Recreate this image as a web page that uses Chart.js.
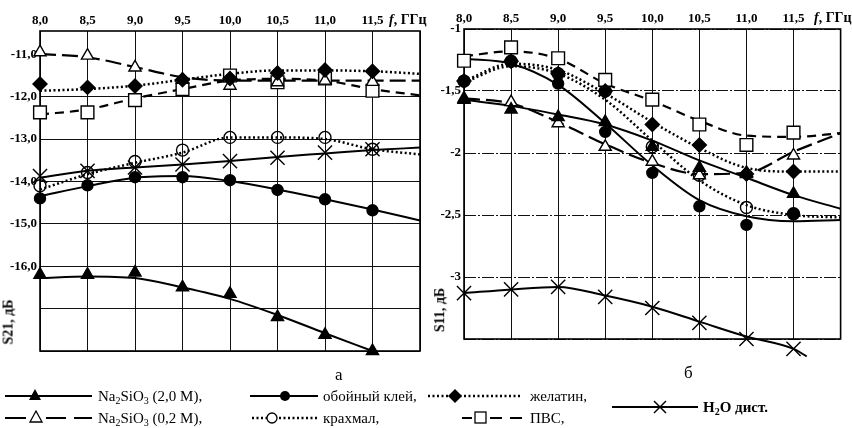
<!DOCTYPE html>
<html><head><meta charset="utf-8">
<script src="https://cdn.jsdelivr.net/npm/chart.js@4"></script>
<style>
body{margin:0;background:#fff;width:852px;height:428px;overflow:hidden;position:relative;font-family:'Liberation Serif','Times New Roman',serif;color:#000;}
canvas{position:absolute;}
.t{position:absolute;white-space:nowrap;line-height:1;}
.lg{font-size:15px;}
.ax{font-size:14px;font-weight:bold;}
sub{font-size:10px;vertical-align:-3px;line-height:0;}
</style></head><body>
<canvas id="c1" width="432" height="385" style="left:0;top:0"></canvas>
<canvas id="c2" width="428" height="385" style="left:424px;top:0"></canvas>

<div class="t ax" style="left:389px;top:13px;"><i>f</i>, ГГц</div>
<div class="t ax" style="left:814px;top:11px;"><i>f</i>, ГГц</div>
<div class="t ax" style="left:-14px;top:315px;transform:rotate(-90deg);">S21, дБ</div>
<div class="t ax" style="left:418px;top:303px;transform:rotate(-90deg);">S11, дБ</div>
<div class="t" style="left:335px;top:366px;font-size:17px;">а</div>
<div class="t" style="left:684px;top:364px;font-size:17px;">б</div>

<svg style="position:absolute;left:0;top:380px" width="852" height="48">
 <g stroke="#000" fill="none" stroke-width="2">
  <line x1="5" y1="16" x2="92" y2="16"/>
  <line x1="250" y1="16" x2="318" y2="16"/>
  <line x1="428" y1="16" x2="520" y2="16" stroke-dasharray="2,2.5" stroke-width="2.5"/>
  <line x1="5" y1="38" x2="26" y2="38"/>
  <line x1="46" y1="38" x2="66" y2="38"/>
  <line x1="74" y1="38" x2="92" y2="38"/>
  <line x1="252" y1="38" x2="318" y2="38" stroke-dasharray="2,2.5" stroke-width="2.5"/>
  <line x1="462" y1="38" x2="472" y2="38"/>
  <line x1="490" y1="38" x2="502" y2="38"/>
  <line x1="510" y1="38" x2="522" y2="38"/>
  <line x1="612" y1="27" x2="698" y2="27"/>
 </g>
 <polygon points="35,9 41,20 29,20" fill="#000"/>
 <circle cx="285" cy="16" r="5" fill="#000"/>
 <polygon points="455,9 462,16 455,23 448,16" fill="#000"/>
 <polygon points="36,31 42,42 30,42" fill="#fff" stroke="#000" stroke-width="1.3"/>
 <circle cx="272" cy="38" r="5" fill="#fff" stroke="#000" stroke-width="1.3"/>
 <rect x="475" y="32" width="11" height="11" fill="#fff" stroke="#000" stroke-width="1.3"/>
 <g stroke="#000" stroke-width="1.5"><line x1="654" y1="21" x2="666" y2="33"/><line x1="666" y1="21" x2="654" y2="33"/></g>
</svg>
<div class="t lg" style="left:98px;top:389px;">Na<sub>2</sub>SiO<sub>3</sub> (2,0 M),</div>
<div class="t lg" style="left:323px;top:389px;">обойный клей,</div>
<div class="t lg" style="left:530px;top:389px;">желатин,</div>
<div class="t lg" style="left:98px;top:411px;">Na<sub>2</sub>SiO<sub>3</sub> (0,2 M),</div>
<div class="t lg" style="left:323px;top:411px;">крахмал,</div>
<div class="t lg" style="left:530px;top:411px;">ПВС,</div>
<div class="t lg" style="left:703px;top:400px;font-weight:bold;">H<sub>2</sub>O дист.</div>

<script>
// ---------- shared ----------
const freq = [8.0, 8.5, 9.0, 9.5, 10.0, 10.5, 11.0, 11.5];
const trendFreq = [8.0, 8.5, 9.0, 9.5, 10.0, 10.5, 11.0, 11.5, 12.0];
const xTicks = [8.0, 8.5, 9.0, 9.5, 10.0, 10.5, 11.0, 11.5, 12.0];

// ---------- panel а : S21, dB ----------
const s21YTicks = [-18, -17, -16, -15, -14, -13, -12, -11];
// measured points
const s21_na2_20 = [-16.2, -16.2, -16.15, -16.5, -16.65, -17.2, -17.62, -18.0];
const s21_na2_02 = [-10.95, -11.03, -11.31, -11.6, -11.74, -11.66, -11.62, -11.65];
const s21_glue   = [-14.4, -14.09, -13.9, -13.9, -13.97, -14.2, -14.42, -14.68];
const s21_gel    = [-11.7, -11.78, -11.75, -11.6, -11.57, -11.44, -11.37, -11.4];
const s21_starch = [-14.1, -13.79, -13.53, -13.26, -12.96, -12.96, -12.96, -13.24];
const s21_pva    = [-12.37, -12.37, -12.08, -11.82, -11.5, -11.66, -11.57, -11.86];
const s21_water  = [-13.87, -13.75, -13.67, -13.6, -13.52, -13.44, -13.32, -13.24];
// trend curves read at trendFreq
const s21t_na2_20 = [-16.28, -16.24, -16.28, -16.5, -16.77, -17.15, -17.58, -18.0];
const s21t_na2_02 = [-10.99, -11.07, -11.3, -11.54, -11.62, -11.62, -11.62, -11.62, -11.62];
const s21t_glue   = [-14.35, -14.11, -13.91, -13.87, -13.99, -14.19, -14.42, -14.66, -14.92];
const s21t_gel    = [-11.86, -11.82, -11.74, -11.6, -11.46, -11.38, -11.38, -11.4, -11.46];
const s21t_starch = [-14.19, -13.83, -13.56, -13.32, -12.96, -12.96, -13.0, -13.24, -13.36];
const s21t_pva    = [-12.42, -12.3, -12.04, -11.82, -11.62, -11.58, -11.62, -11.82, -11.97];
const s21t_water  = [-13.91, -13.75, -13.67, -13.6, -13.52, -13.42, -13.34, -13.26, -13.2];

// ---------- panel б : S11, dB ----------
const s11YTicks = [-3.5, -3, -2.5, -2, -1.5, -1];
const s11_na2_20 = [-1.57, -1.65, -1.71, -1.75, -1.95, -2.12, -2.16, -2.33];
const s11_na2_02 = [-1.56, -1.59, -1.76, -1.95, -2.07, -2.18, -2.17, -2.02];
const s11_glue   = [-1.42, -1.26, -1.44, -1.83, -2.16, -2.43, -2.58, -2.49];
const s11_gel    = [-1.42, -1.26, -1.36, -1.5, -1.77, -1.935, -2.17, -2.15];
const s11_starch = [-1.42, -1.26, -1.36, -1.5, -1.95, -2.18, -2.44, -2.49];
const s11_pva    = [-1.256, -1.148, -1.236, -1.41, -1.57, -1.77, -1.935, -1.836];
const s11_water  = [-3.13, -3.1, -3.08, -3.16, -3.25, -3.37, -3.5, -3.58];
const s11t_na2_20 = [-1.57, -1.62, -1.69, -1.77, -1.9, -2.06, -2.2, -2.34, -2.45];
const s11t_na2_02 = [-1.56, -1.6, -1.75, -1.93, -2.08, -2.17, -2.16, -1.99, -1.84];
const s11t_glue   = [-1.24, -1.28, -1.45, -1.76, -2.1, -2.38, -2.51, -2.55, -2.54];
const s11t_gel    = [-1.42, -1.28, -1.33, -1.52, -1.75, -1.96, -2.12, -2.15, -2.15];
const s11t_starch = [-1.43, -1.3, -1.36, -1.57, -1.9, -2.22, -2.42, -2.5, -2.52];
const s11t_pva    = [-1.22, -1.18, -1.24, -1.44, -1.58, -1.74, -1.86, -1.87, -1.84];
const s11t_water  = [-3.13, -3.1, -3.08, -3.15, -3.24, -3.36, -3.48, -3.58, -3.64];
const s11t_waterFreq = [8.0, 8.5, 9.0, 9.5, 10.0, 10.5, 11.0, 11.5, 11.64];

// ---------- styles ----------
const SOLID = [], DOT = [2, 2.5], DASH = [9, 6], LDASH = [16, 6];
const styles = {
  na2_20: {pt:'triangle', r:7, fill:'#000', dash:SOLID, w:2, order:1},
  glue:   {pt:'circle', r:5.5, fill:'#000', dash:SOLID, w:2, order:2},
  gel:    {pt:'rectRot', r:7, fill:'#000', dash:DOT, w:2.5, order:3},
  water:  {pt:'crossRot', r:10, fill:'#000', dash:SOLID, w:2, order:4},
  na2_02: {pt:'triangle', r:7, fill:'#fff', dash:LDASH, w:2.2, order:5},
  pva:    {pt:'rect', r:9, fill:'#fff', dash:DASH, w:2.2, order:6},
  starch: {pt:'circle', r:6, fill:'rgba(255,255,255,0)', dash:DOT, w:2.5, order:7}
};

function pts(xs, ys){ return ys.map((y,i)=>({x:xs[i], y:y})); }
function series(key, marks, trend, tx){
  const s = styles[key];
  return [
    {data: pts(freq, marks), showLine:false, pointStyle:s.pt, pointRadius:s.r, pointHoverRadius:s.r,
     pointBackgroundColor:s.fill, pointBorderColor:'#000', pointBorderWidth:1.4, order:s.order, clip:false},
    {data: pts(tx || trendFreq, trend), pointRadius:0, borderColor:'#000', borderWidth:s.w,
     borderDash:s.dash, cubicInterpolationMode:'monotone', order:20+s.order, clip:false, fill:false}
  ];
}

const frame = {
  id:'frame',
  beforeDatasetsDraw(chart){
    const a = chart.chartArea, c = chart.ctx;
    c.save(); c.strokeStyle='#000'; c.lineWidth=1.6;
    c.strokeRect(a.left, a.top, a.right-a.left, a.bottom-a.top); c.restore();
  }
};

const tickFont = {family:"'Liberation Serif', serif", size:13, weight:'bold'};

function makeChart(id, datasets, yTicks, ymin, ymax, yFmt, xh, pad, gridDash, hideY){
  return new Chart(document.getElementById(id), {
    type:'line',
    data:{datasets},
    plugins:[frame],
    options:{
      responsive:false, animation:false, devicePixelRatio:1,
      layout:{padding:pad},
      plugins:{legend:{display:false}, tooltip:{enabled:false}},
      elements:{line:{borderColor:'#000'}},
      scales:{
        x:{type:'linear', position:'top', min:8, max:12,
           afterBuildTicks:ax=>{ax.ticks = xTicks.map(v=>({value:v}));},
           afterFit:ax=>{ax.height = xh;},
           ticks:{color:'#000', font:tickFont, padding:3, maxRotation:0,
                  callback:v=> v===12 ? '' : v.toFixed(1).replace('.', ',')},
           grid:{color:'#111', lineWidth:1, drawTicks:false},
           border:{display:false}},
        y:{type:'linear', min:ymin, max:ymax,
           afterBuildTicks:ax=>{ax.ticks = yTicks.map(v=>({value:v}));},
           afterFit:ax=>{ax.width = 40;},
           ticks:{color:'#000', font:tickFont, padding:3, callback:yFmt},
           grid:{drawTicks:false, lineWidth:1,
                 color:ctx=> (ctx.tick && hideY.includes(ctx.tick.value)) ? 'rgba(0,0,0,0)' : '#111'},
           border:{display:false, dash:gridDash}}
      }
    }
  });
}

const ds1 = [].concat(
  series('na2_20', s21_na2_20, s21t_na2_20, freq),
  series('glue', s21_glue, s21t_glue),
  series('gel', s21_gel, s21t_gel),
  series('water', s21_water, s21t_water),
  series('na2_02', s21_na2_02, s21t_na2_02),
  series('pva', s21_pva, s21t_pva),
  series('starch', s21_starch, s21t_starch)
);
makeChart('c1', ds1, s21YTicks, -18, -10.45,
  v => v <= -17 ? '' : v.toFixed(1).replace('.', ','),
  31, {left:0, right:12, top:0, bottom:34}, [], [-11]);

const ds2 = [].concat(
  series('na2_20', s11_na2_20, s11t_na2_20),
  series('glue', s11_glue, s11t_glue),
  series('gel', s11_gel, s11t_gel),
  series('water', s11_water, s11t_water, s11t_waterFreq),
  series('na2_02', s11_na2_02, s11t_na2_02),
  series('pva', s11_pva, s11t_pva),
  series('starch', s11_starch, s11t_starch)
);
makeChart('c2', ds2, s11YTicks, -3.5, -1,
  v => v === -3.5 ? '' : String(v).replace('.', ','),
  29, {left:0, right:4, top:0, bottom:46}, [12, 2, 2, 2], []);
</script>
</body></html>
